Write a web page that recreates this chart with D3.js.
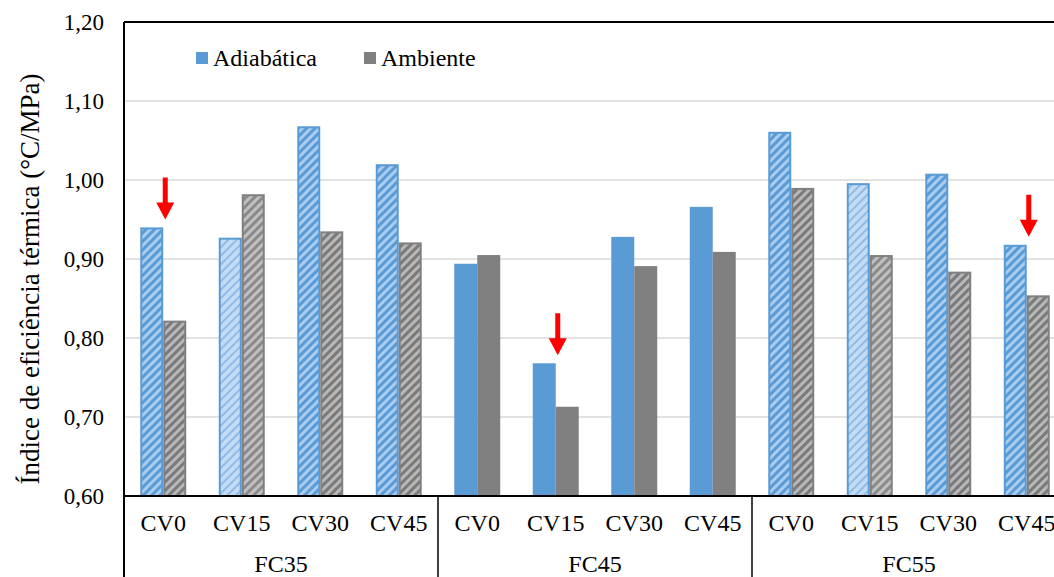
<!DOCTYPE html>
<html><head><meta charset="utf-8">
<script src="https://cdn.jsdelivr.net/npm/d3@7"></script>
<style>
html,body{margin:0;padding:0;background:#fff;}
text{font-family:"Liberation Serif","Times New Roman",serif;fill:#000;}
</style></head>
<body>
<svg id="c" width="1054" height="577"></svg>
<script>
const groups = ["FC35","FC45","FC55"];
const subcats = ["CV0","CV15","CV30","CV45"];
const series = ["Adiabática","Ambiente"];
const adiabatica = [0.940,0.927,1.068,1.020, 0.894,0.768,0.928,0.966, 1.061,0.996,1.008,0.918];
const ambiente   = [0.822,0.982,0.935,0.921, 0.905,0.713,0.891,0.909, 0.990,0.905,0.884,0.854];
const yTicks = [0.60,0.70,0.80,0.90,1.00,1.10,1.20];
const marked = [0,5,11]; // categories with red arrows
// fill style per category: "hatch", "light", "solid"
const styleKind = ["hatch","light","hatch","hatch","solid","solid","solid","solid","hatch","light","hatch","hatch"];

const svg = d3.select("#c");
const L=124, T=22, B=496, step=78.5;
const cats = [];
groups.forEach(g=>subcats.forEach(s=>cats.push(g+"|"+s)));
const x = d3.scaleBand().domain(cats).range([L, L+step*cats.length]).padding(0);
const xs = d3.scaleBand().domain(series).range([0, x.bandwidth()]).paddingInner(0).paddingOuter(0.707);
const y = d3.scaleLinear().domain([0.6,1.2]).range([B,T]);

const defs = svg.append("defs");
function hatch(id, bg, fg, w){
  const p = defs.append("pattern").attr("id",id).attr("patternUnits","userSpaceOnUse")
    .attr("width",6).attr("height",6).attr("patternTransform","rotate(45)");
  p.append("rect").attr("width",6).attr("height",6).attr("fill",bg);
  p.append("rect").attr("width",w).attr("height",6).attr("fill",fg);
}
hatch("hb","#a9cdf0","#5b9bd5",3);
hatch("hbl","#c3dcf3","#8fbbe6",2);
hatch("hg","#b8b8b8","#7a7a7a",3);
hatch("hgl","#c0c0c0","#8a8a8a",3);

// gridlines
svg.append("g").selectAll("line").data(yTicks.filter(v=>v>0.6&&v<1.2)).join("line")
  .attr("x1",L).attr("x2",1054).attr("y1",d=>y(d)).attr("y2",d=>y(d))
  .attr("stroke","#d9d9d9").attr("stroke-width",1.5);

// bars
const bars = svg.append("g");
cats.forEach((c,i)=>{
  const k = styleKind[i];
  [[series[0],adiabatica[i]],[series[1],ambiente[i]]].forEach(([s,v],j)=>{
    let fill, stroke;
    if(k==="solid"){ fill = j===0?"#5b9bd5":"#808080"; stroke="none"; }
    else if(k==="light"){ fill = j===0?"url(#hbl)":"url(#hgl)"; stroke = j===0?"#5b9bd5":"#808080"; }
    else { fill = j===0?"url(#hb)":"url(#hg)"; stroke = j===0?"#5b9bd5":"#808080"; }
    const inset = stroke==="none"?0:1;
    bars.append("rect")
      .attr("x",x(c)+xs(s)+inset).attr("y",y(v)+inset)
      .attr("width",xs.bandwidth()-2*inset).attr("height",B-y(v)-inset)
      .attr("fill",fill).attr("stroke",stroke).attr("stroke-width",stroke==="none"?0:2);
  });
});

// frame lines
svg.append("line").attr("x1",L).attr("x2",1054).attr("y1",T).attr("y2",T).attr("stroke","#000").attr("stroke-width",2);
svg.append("line").attr("x1",L).attr("x2",L).attr("y1",T).attr("y2",577).attr("stroke","#000").attr("stroke-width",2);
svg.append("line").attr("x1",L).attr("x2",1054).attr("y1",B).attr("y2",B).attr("stroke","#000").attr("stroke-width",2);
groups.forEach((g,i)=>{ if(i>0){ const xx = x(g+"|"+subcats[0]);
  svg.append("line").attr("x1",xx).attr("x2",xx).attr("y1",B).attr("y2",577).attr("stroke","#000").attr("stroke-width",1.5);}});

// y axis labels
const fmt = d=>d.toFixed(2).replace(".",",");
svg.append("g").selectAll("text").data(yTicks).join("text")
  .attr("x",104).attr("y",d=>y(d)+8).attr("text-anchor","end")
  .style("font-size","23px").text(fmt);

// category labels
svg.append("g").selectAll("text").data(cats).join("text")
  .attr("x",d=>x(d)+x.bandwidth()/2).attr("y",531).attr("text-anchor","middle")
  .style("font-size","24px").text(d=>d.split("|")[1]);
svg.append("g").selectAll("text").data(groups).join("text")
  .attr("x",g=>x(g+"|CV0")+step*2).attr("y",572).attr("text-anchor","middle")
  .style("font-size","24px").text(d=>d);

// y title
svg.append("text").attr("transform","translate(39,279) rotate(-90)").attr("text-anchor","middle")
  .style("font-size","27px").text("Índice de eficiência térmica (°C/MPa)");

// legend
const lg = svg.append("g");
[[series[0],"#5b9bd5",196],[series[1],"#808080",364]].forEach(([s,col,lx])=>{
  lg.append("rect").attr("x",lx).attr("y",52).attr("width",12).attr("height",12).attr("fill",col);
  lg.append("text").attr("x",lx+17).attr("y",66).style("font-size","24px").text(s);
});

// red arrows
marked.forEach(i=>{
  const cx = x(cats[i]) + x.bandwidth()/2 + 2;
  const tip = y(adiabatica[i]) - 8;
  const p = d3.path();
  p.moveTo(cx-2.5, tip-42); p.lineTo(cx+2.5, tip-42); p.lineTo(cx+2.5, tip-17);
  p.lineTo(cx+9, tip-17); p.lineTo(cx, tip); p.lineTo(cx-9, tip-17); p.lineTo(cx-2.5, tip-17); p.closePath();
  svg.append("path").attr("d",p.toString()).attr("fill","#ff0000");
});
</script>
</body></html>
